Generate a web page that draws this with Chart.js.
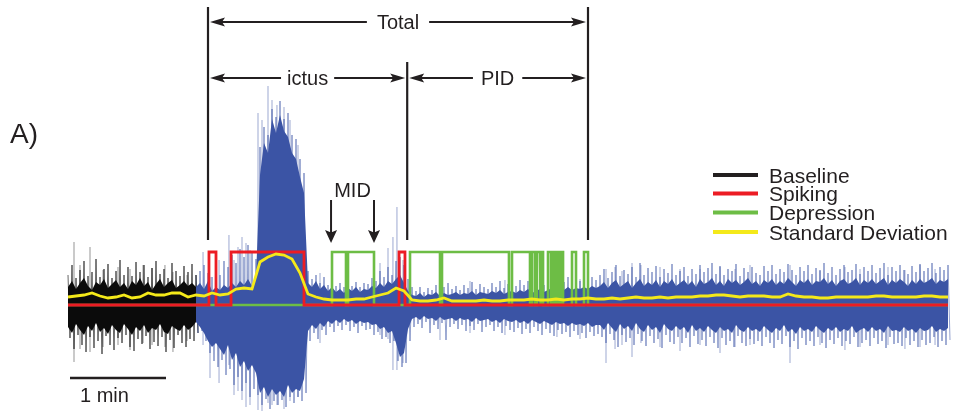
<!DOCTYPE html>
<html>
<head>
<meta charset="utf-8">
<title>EEG seizure segmentation</title>
<script src="https://cdn.jsdelivr.net/npm/chart.js@4/dist/chart.umd.min.js"></script>
<style>
  html, body { margin: 0; padding: 0; background: #ffffff; }
  #wrap { width: 953px; height: 411px; position: relative; }
</style>
</head>
<body>
<div id="wrap"><canvas id="eeg" width="953" height="411"></canvas></div>
<script>
// ---- recording data (time in s, amplitude in display units) ----
const envStep = 2.5;      // envelopes sampled every 2.5 s
const sdStep = 5;         // running standard deviation, every 5 s
const baselineEnd = 80;   // end of the baseline segment

// extreme excursions of the trace in each bin (max / min)
const outerHi = [
  30,40,27,35,44,29,33,46,28,36,
  41,27,34,45,30,38,29,43,33,40,
  28,37,44,31,36,27,42,34,29,39,
  33,41,30,34,40,32,28,36,30,44,
  38,50,42,56,48,60,52,46,158,178,
  170,196,188,204,186,192,170,166,146,132,
  34,26,30,22,28,20,24,19,22,18,
  24,19,23,18,22,21,27,24,34,28,
  38,30,44,48,40,26,18,14,18,13,
  17,15,20,14,18,22,16,19,15,20,
  17,23,16,21,18,16,22,18,24,17,
  21,23,19,25,20,24,18,22,26,20,
  24,27,21,25,23,28,22,26,24,29,
  23,28,25,30,36,27,33,40,29,35,
  31,38,28,42,30,37,33,39,28,36,
  32,41,30,34,38,29,36,31,40,33,
  37,42,31,39,30,36,34,41,29,37,
  33,38,32,30,39,34,40,31,36,33,
  41,35,30,38,34,40,31,37,35,42,
  32,38,30,36,40,33,35,41,31,38,
  34,40,32,37,42,30,38,34,40,35,
  31,39,33,41,34,37,42,32,38,35,
  40
];
const outerLo = [
  -33,-44,-30,-40,-47,-32,-43,-36,-49,-31,
  -40,-45,-33,-38,-30,-42,-46,-34,-39,-31,
  -44,-37,-41,-32,-47,-35,-43,-30,-38,-42,
  -34,-36,-28,-26,-36,-48,-56,-62,-55,-70,
  -64,-80,-72,-86,-78,-92,-84,-90,-100,-94,
  -104,-96,-100,-95,-102,-92,-98,-92,-96,-88,
  -36,-28,-34,-25,-30,-22,-27,-21,-25,-20,
  -26,-22,-28,-21,-25,-24,-30,-27,-34,-32,
  -38,-36,-56,-62,-58,-36,-22,-19,-23,-17,
  -28,-20,-24,-18,-35,-22,-19,-24,-20,-26,
  -21,-25,-19,-27,-22,-20,-26,-22,-28,-21,
  -25,-27,-23,-29,-24,-28,-22,-26,-30,-24,
  -28,-31,-25,-29,-27,-32,-26,-30,-28,-33,
  -27,-31,-29,-32,-38,-29,-35,-42,-30,-37,
  -33,-40,-29,-36,-41,-31,-38,-34,-43,-30,
  -37,-39,-32,-38,-33,-42,-31,-39,-35,-41,
  -32,-38,-43,-33,-40,-36,-42,-31,-38,-41,
  -34,-39,-36,-41,-32,-38,-43,-35,-39,-31,
  -42,-36,-44,-33,-40,-36,-41,-32,-38,-43,
  -35,-39,-33,-41,-36,-39,-32,-42,-38,-35,
  -41,-33,-39,-36,-43,-32,-39,-38,-41,-33,
  -40,-36,-42,-35,-40,-38,-32,-42,-36,-40,
  -35
];

// dense core of the trace in each bin
const coreHi = [
  18,24,16,22,27,19,15,23,20,26,
  17,21,25,18,22,16,24,20,27,19,
  23,15,21,26,18,22,25,17,20,24,
  19,22,18,22,16,24,14,18,15,20,
  17,22,18,24,20,26,19,28,130,162,
  152,186,172,190,174,168,152,146,128,112,
  22,18,24,16,20,14,18,13,16,12,
  17,14,18,13,16,15,19,17,22,18,
  24,21,26,30,22,14,10,9,12,8,
  11,10,13,9,12,10,11,13,10,12,
  11,14,10,13,12,11,14,12,15,11,
  13,14,12,15,13,16,12,14,16,13,
  15,17,14,16,15,18,15,17,16,18,
  16,19,17,19,23,17,22,25,18,21,
  24,17,22,26,19,23,20,25,18,24,
  21,26,19,22,25,20,24,18,26,21,
  23,27,20,24,19,26,22,25,20,23,
  27,21,24,19,25,22,26,20,24,21,
  27,23,19,25,22,26,20,24,23,27,
  21,25,19,24,26,21,23,27,20,25,
  22,26,21,24,27,20,25,22,26,23,
  19,25,21,26,22,24,27,21,25,23,
  26
];
const coreLo = [
  -22,-28,-19,-25,-30,-21,-26,-18,-27,-23,
  -29,-20,-25,-28,-19,-24,-30,-22,-26,-20,
  -28,-23,-25,-19,-27,-29,-21,-24,-26,-20,
  -25,-22,-17,-22,-28,-36,-42,-38,-44,-50,
  -40,-55,-48,-62,-56,-66,-60,-68,-88,-82,
  -92,-84,-90,-86,-92,-80,-88,-84,-86,-74,
  -26,-20,-24,-18,-22,-16,-19,-15,-18,-14,
  -17,-15,-19,-16,-18,-17,-20,-19,-24,-22,
  -28,-26,-38,-52,-48,-24,-14,-12,-15,-11,
  -14,-13,-16,-12,-15,-14,-13,-16,-13,-15,
  -14,-17,-13,-16,-15,-14,-17,-15,-18,-14,
  -16,-17,-15,-18,-16,-19,-15,-17,-19,-16,
  -18,-20,-17,-19,-18,-21,-18,-20,-19,-21,
  -18,-22,-20,-20,-25,-18,-23,-27,-19,-24,
  -21,-26,-18,-24,-27,-20,-25,-22,-28,-19,
  -24,-26,-21,-25,-22,-28,-20,-26,-23,-27,
  -21,-25,-28,-22,-26,-24,-28,-20,-25,-27,
  -22,-26,-24,-27,-21,-25,-28,-23,-26,-20,
  -27,-24,-29,-22,-26,-24,-27,-21,-25,-28,
  -23,-26,-22,-27,-24,-26,-21,-28,-25,-23,
  -27,-22,-26,-24,-28,-21,-26,-25,-27,-22,
  -26,-24,-28,-23,-26,-25,-21,-27,-24,-26,
  -23
];

// isolated large deflections: [time, peak, trough]
const spikes = [
  [3.75,63,-57],[7.5,40,-44],[13.75,58,-47],[21.9,35,-42],[31.25,38,-40],
  [38.75,36,-45],[46.9,40,-38],[52.5,37,-40],[60.6,40,-42],[65.6,33,-47],
  [74.4,30,-36],[84.4,53,-40],[88.75,28,-73],[94.4,45,-78],[100.6,70,-60],
  [103.75,45,-90],[106.25,58,-86],[108.75,68,-95],[111.25,62,-102],[113.75,55,-100],
  [118.75,192,-105],[121.25,185,-108],[125,219,-98],[127.5,205,-100],[130.6,200,-100],
  [135,198,-104],[138.75,185,-96],[143.75,160,-92],[157.5,32,-38],[195,42,-30],
  [200,57,-34],[203.1,68,-65],[205.6,98,-65],[209.4,45,-58],[232.5,17,-35],
  [251.25,24,-28],[273.1,25,-30],[305.6,28,-32],[320,26,-34],[336.25,36,-58],
  [341.9,38,-44],[346.25,34,-40],[352.5,42,-52],[358.1,40,-38],[370,38,-42],
  [382.5,36,-46],[395,36,-40],[407.5,38,-48],[416.9,36,-42],[426.25,40,-40],
  [451.25,40,-58],[470,34,-40],[485.6,38,-45],[495,36,-42],[512.5,38,-40],
  [523.1,35,-44],[532.5,40,-42],[541.9,36,-40]
];

// running standard deviation
const stdDev = [
  8,9,10,12,9,7,8,10,7,8,
  12,10,10,12,12,8,10,9,12,10,
  11,16,17,16,43,48,51,50,46,32,
  11,8,6,5,5,5,6,6,8,10,
  12,17,14,5,4,4,5,7,4,4,
  4,4,5,4,4,5,5,5,6,5,
  5,6,5,6,6,7,6,6,7,6,
  7,8,7,7,8,7,8,8,8,9,
  9,10,10,9,8,9,9,9,8,8,
  11,9,8,8,7,7,8,8,8,8,
  8,9,9,8,8,8,8,9,9,8,
  8
];

// detector states: [on, off] in s
const spikingEpochs = [[88.1, 92.5], [101.9, 147.5], [206.9, 210.6]];
const depressionEpochs = [
  [165, 173.75], [175, 191.25], [213.75, 232.5], [233.75, 275.6], [277.5, 288.75],
  [290, 291.9], [293.1, 295], [295.6, 296.9], [300, 301.9], [303.1, 304.4],
  [305.6, 306.9], [308.1, 309.4], [315, 317.5], [322.5, 325]
];
const stateLevel = 53;

// event timing (s)
const ictusStart = 87.5, ictusEnd = 212, pidEnd = 325;
const midMarks = [164.4, 191.25];
const legendLabels = ['Baseline', 'Spiking', 'Depression', 'Standard Deviation'];

// ---- build series ----
const endTime = (outerHi.length - 1) * envStep;
const series = (vals, step) => vals.map((v, i) => ({ x: i * step, y: v }));
const between = (p, a, b) => p.filter(q => q.x >= a && q.x <= b);
const cHi = series(coreHi, envStep), cLo = series(coreLo, envStep);

// min/max pairs drawn as a fast oscillating trace
function excursions(a, b) {
  const out = [];
  outerHi.forEach((hi, i) => {
    const t = i * envStep;
    if (t >= a && t <= b) out.push({ x: t, y: hi }, { x: t + envStep / 2, y: outerLo[i] });
  });
  return out;
}
function stateSeries(epochs) {
  const out = [{ x: 0, y: 0 }];
  epochs.forEach(([a, b]) => out.push({ x: a, y: 0 }, { x: a, y: stateLevel }, { x: b, y: stateLevel }, { x: b, y: 0 }));
  out.push({ x: endTime, y: 0 });
  return out;
}
function spikeSeries(list) {
  const out = [];
  list.forEach(([t, hi, lo]) => out.push({ x: t, y: lo }, { x: t, y: hi }, { x: t, y: null }));
  return out;
}

const clear = 'rgba(0,0,0,0)';
const ink = '#231f20';
const blue = '#3b54a5';
const common = { pointRadius: 0, pointHoverRadius: 0, tension: 0, borderWidth: 0, borderColor: clear, spanGaps: false, fill: false };

const datasets = [
  { ...common, label: 'baseline excursions', data: excursions(0, baselineEnd), borderWidth: 1, borderColor: 'rgba(0,0,0,0.6)', order: 10 },
  { ...common, label: 'trace excursions', data: excursions(baselineEnd, endTime), borderWidth: 1, borderColor: 'rgba(59,84,165,0.55)', order: 10 },
  { ...common, label: 'baseline spikes', data: spikeSeries(spikes.filter(s => s[0] < baselineEnd)), borderWidth: 1, borderColor: 'rgba(20,20,20,0.45)', order: 9 },
  { ...common, label: 'trace spikes', data: spikeSeries(spikes.filter(s => s[0] >= baselineEnd)), borderWidth: 1, borderColor: 'rgba(59,84,165,0.5)', order: 9 },
  { ...common, label: 'baseline core hi', data: between(cHi, 0, baselineEnd), order: 8 },
  { ...common, label: 'Baseline', data: between(cLo, 0, baselineEnd), fill: '-1', backgroundColor: '#0b0b0b', legendColor: ink, order: 8 },
  { ...common, label: 'trace core hi', data: between(cHi, baselineEnd, endTime), order: 8 },
  { ...common, label: 'trace core lo', data: between(cLo, baselineEnd, endTime), fill: '-1', backgroundColor: blue, order: 8 },
  { ...common, label: 'Depression', data: stateSeries(depressionEpochs), borderWidth: 2.6, borderColor: '#6dbd45', borderJoinStyle: 'miter', order: 3 },
  { ...common, label: 'Spiking', data: stateSeries(spikingEpochs), borderWidth: 2.8, borderColor: '#ec1c24', borderJoinStyle: 'miter', order: 2 },
  { ...common, label: 'Standard Deviation', data: series(stdDev, sdStep), borderWidth: 2.8, borderColor: '#f4e91a', order: 1 }
];

// ---- annotation layer: phase spans, markers, scale bar, legend ----
const font = s => s + 'px "Liberation Sans", Arial, Helvetica, sans-serif';
const annotations = {
  id: 'annotations',
  afterDatasetsDraw(chart) {
    const ctx = chart.ctx;
    const X = t => chart.scales.x.getPixelForValue(t);
    const Y = v => chart.scales.y.getPixelForValue(v);
    ctx.save();
    ctx.strokeStyle = ink;
    ctx.fillStyle = ink;

    function head(tx, ty, dx, dy, len, half) {
      const bx = tx - dx * len, by = ty - dy * len, nx = -dy, ny = dx;
      ctx.beginPath();
      ctx.moveTo(tx, ty);
      ctx.lineTo(bx + nx * half, by + ny * half);
      ctx.lineTo(tx - dx * len * 0.8, ty - dy * len * 0.8);
      ctx.lineTo(bx - nx * half, by - ny * half);
      ctx.closePath();
      ctx.fill();
    }

    // phase boundaries
    ctx.lineWidth = 2.2;
    [[ictusStart, 298], [ictusEnd, 243], [pidEnd, 298]].forEach(([t, top]) => {
      ctx.beginPath();
      ctx.moveTo(X(t), Y(top));
      ctx.lineTo(X(t), Y(65));
      ctx.stroke();
    });

    // duration spans
    ctx.font = font(20);
    ctx.textAlign = 'center';
    ctx.textBaseline = 'alphabetic';
    function span(a, b, v, label, gap) {
      const x0 = X(a) + 2, x1 = X(b) - 2, yy = Y(v), cx = (X(a) + X(b)) / 2;
      const w = ctx.measureText(label).width;
      ctx.lineWidth = 2;
      ctx.beginPath();
      ctx.moveTo(x0 + 8, yy); ctx.lineTo(cx - w / 2 - gap, yy);
      ctx.moveTo(cx + w / 2 + gap, yy); ctx.lineTo(x1 - 8, yy);
      ctx.stroke();
      head(x0, yy, -1, 0, 15, 4.5);
      head(x1, yy, 1, 0, 15, 4.5);
      ctx.fillText(label, cx, yy + 7);
    }
    span(ictusStart, pidEnd, 283, 'Total', 10);
    span(ictusStart, ictusEnd, 227, 'ictus', 6);
    span(ictusEnd, pidEnd, 227, 'PID', 8);

    // MID markers
    ctx.lineWidth = 2;
    midMarks.forEach(t => {
      ctx.beginPath();
      ctx.moveTo(X(t), Y(105));
      ctx.lineTo(X(t), Y(62) - 9);
      ctx.stroke();
      head(X(t), Y(62), 0, 1, 13, 6);
    });
    ctx.fillText('MID', (X(midMarks[0]) + X(midMarks[1])) / 2, Y(108));

    // time scale bar (1 min)
    ctx.lineWidth = 2.5;
    ctx.beginPath();
    ctx.moveTo(X(1.25), Y(-73));
    ctx.lineTo(X(61.25), Y(-73));
    ctx.stroke();
    ctx.textAlign = 'left';
    ctx.fillText('1 min', X(1.25) + 10, Y(-97));

    // panel label
    ctx.font = font(28);
    ctx.fillText('A)', 10, 143);

    // legend
    ctx.font = font(21);
    const rows = [175, 193.5, 212.5, 232];
    legendLabels.forEach((name, k) => {
      const ds = chart.data.datasets.find(d => d.label === name);
      ctx.strokeStyle = ds.legendColor || ds.borderColor;
      ctx.lineWidth = 4;
      ctx.beginPath();
      ctx.moveTo(713, rows[k]);
      ctx.lineTo(758, rows[k]);
      ctx.stroke();
      ctx.fillStyle = ink;
      ctx.fillText(name, 769, rows[k] + 7.5);
    });
    ctx.restore();
  }
};

new Chart(document.getElementById('eeg'), {
  type: 'line',
  data: { datasets },
  options: {
    responsive: false,
    animation: false,
    devicePixelRatio: 1,
    events: [],
    layout: { padding: 0 },
    scales: {
      x: { type: 'linear', min: -42.5, max: 553.125, display: false },
      y: { type: 'linear', min: -106, max: 305, display: false }
    },
    plugins: { legend: { display: false }, tooltip: { enabled: false } }
  },
  plugins: [annotations]
});
</script>
</body>
</html>
